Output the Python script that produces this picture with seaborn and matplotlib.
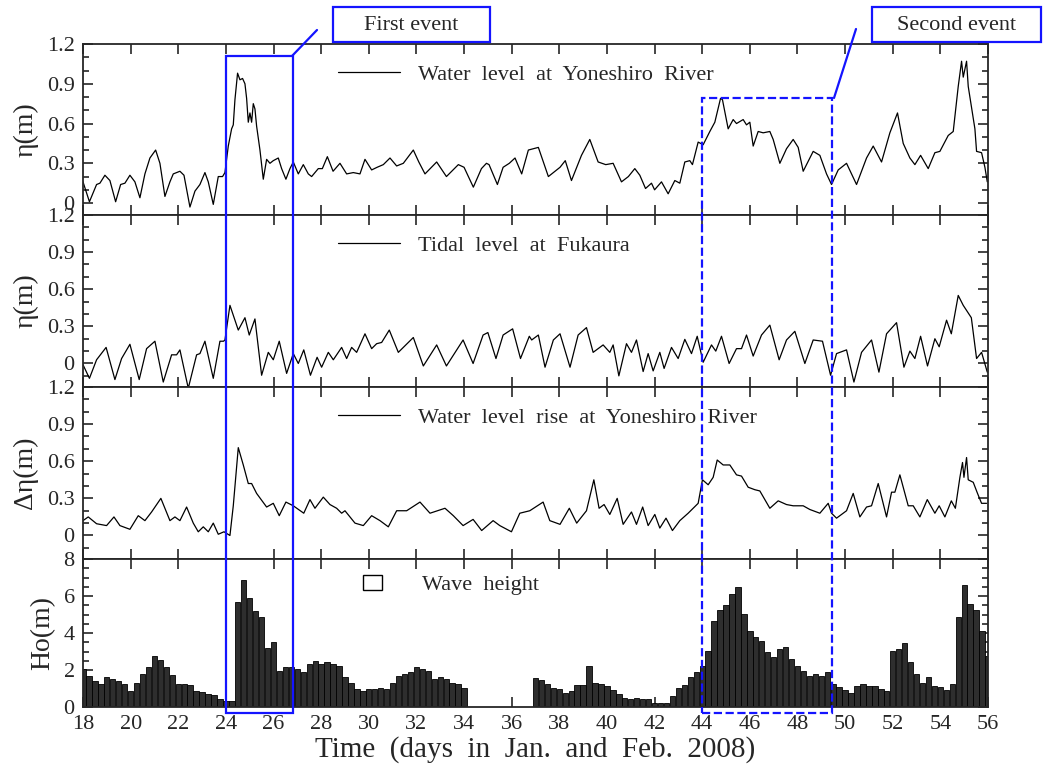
import numpy as np
import pandas as pd
import seaborn as sns
import matplotlib.pyplot as plt
from matplotlib.patches import Rectangle, Patch
from matplotlib.lines import Line2D
from matplotlib.ticker import MultipleLocator, FuncFormatter

# ---- data (days in Jan./Feb. 2008) ----
level_days = [18.0, 18.27, 18.57, 18.71, 18.92, 19.13, 19.37, 19.58, 19.76, 19.97, 20.18, 20.39, 20.6, 20.81,
              21.05, 21.23, 21.44, 21.65, 21.79, 22.07, 22.24, 22.49, 22.7, 22.91, 23.12, 23.26, 23.47, 23.68,
              23.86, 23.96, 24.1, 24.24, 24.31, 24.38, 24.49, 24.59, 24.7, 24.8, 24.87, 24.94, 25.01, 25.08,
              25.15, 25.22, 25.29, 25.43, 25.57, 25.71, 25.85, 25.99, 26.2, 26.34, 26.52, 26.69, 26.83, 27.04,
              27.25, 27.46, 27.6, 27.88, 28.05, 28.26, 28.5, 28.79, 29.07, 29.35, 29.63, 29.84, 30.12, 30.35,
              30.61, 30.89, 31.17, 31.45, 31.87, 32.1, 32.36, 32.85, 33.26, 33.76, 34.0, 34.39, 34.73, 34.94,
              35.05, 35.4, 35.64, 35.9, 36.14, 36.42, 36.7, 37.12, 37.54, 38.03, 38.25, 38.51, 38.93, 39.28,
              39.63, 39.95, 40.26, 40.61, 40.9, 41.17, 41.38, 41.62, 41.87, 42.0, 42.29, 42.57, 42.85, 43.06,
              43.27, 43.48, 43.59, 43.83, 44.04, 44.32, 44.53, 44.77, 44.85, 45.09, 45.3, 45.44, 45.72, 45.86,
              46.0, 46.14, 46.35, 46.56, 46.84, 46.98, 47.26, 47.54, 47.82, 48.03, 48.24, 48.66, 48.94, 49.22,
              49.43, 49.71, 50.06, 50.48, 50.9, 51.18, 51.53, 51.88, 52.2, 52.44, 52.72, 52.93, 53.17, 53.49,
              53.77, 53.98, 54.33, 54.54, 54.75, 54.89, 54.96, 55.1, 55.17, 55.45, 55.52, 55.73, 55.87, 55.97]
level_vals = [0.16, 0.01, 0.14, 0.15, 0.21, 0.17, 0.01, 0.14, 0.15, 0.21, 0.16, 0.04, 0.22, 0.34,
              0.40, 0.30, 0.05, 0.16, 0.22, 0.24, 0.21, -0.03, 0.09, 0.14, 0.23, 0.16, -0.01, 0.20,
              0.20, 0.23, 0.43, 0.56, 0.59, 0.78, 0.98, 0.93, 0.94, 0.90, 0.79, 0.61, 0.68, 0.61,
              0.75, 0.71, 0.58, 0.40, 0.18, 0.33, 0.30, 0.32, 0.34, 0.26, 0.18, 0.26, 0.31, 0.22,
              0.29, 0.22, 0.20, 0.26, 0.26, 0.35, 0.24, 0.30, 0.22, 0.23, 0.22, 0.33, 0.25, 0.27,
              0.29, 0.34, 0.28, 0.30, 0.40, 0.31, 0.22, 0.31, 0.20, 0.29, 0.27, 0.12, 0.26, 0.30,
              0.29, 0.14, 0.27, 0.30, 0.34, 0.22, 0.40, 0.42, 0.20, 0.27, 0.32, 0.17, 0.36, 0.48,
              0.31, 0.29, 0.30, 0.16, 0.20, 0.26, 0.21, 0.11, 0.15, 0.10, 0.16, 0.07, 0.17, 0.15,
              0.31, 0.32, 0.29, 0.46, 0.44, 0.54, 0.61, 0.79, 0.78, 0.56, 0.63, 0.60, 0.63, 0.59,
              0.61, 0.43, 0.54, 0.53, 0.54, 0.48, 0.30, 0.41, 0.48, 0.42, 0.24, 0.39, 0.36, 0.22,
              0.14, 0.25, 0.30, 0.14, 0.34, 0.43, 0.31, 0.53, 0.68, 0.45, 0.34, 0.29, 0.36, 0.26,
              0.38, 0.39, 0.51, 0.54, 0.88, 1.07, 0.95, 1.07, 0.88, 0.56, 0.39, 0.38, 0.27, 0.16]

tide_days = [18.0, 18.27, 18.57, 18.97, 19.34, 19.62, 19.97, 20.36, 20.67, 21.02, 21.37, 21.72, 21.93, 22.07,
             22.42, 22.77, 22.91, 23.12, 23.47, 23.75, 23.9, 23.96, 24.17, 24.52, 24.8, 24.98, 25.22, 25.5,
             25.78, 25.99, 26.24, 26.55, 26.83, 27.04, 27.27, 27.55, 27.83, 28.02, 28.3, 28.51, 28.86, 29.07,
             29.28, 29.49, 29.84, 30.12, 30.33, 30.54, 30.86, 31.24, 31.87, 32.29, 32.85, 33.26, 33.96, 34.38,
             34.8, 35.0, 35.34, 35.64, 36.04, 36.37, 36.74, 36.84, 37.12, 37.4, 37.75, 38.03, 38.45, 38.79,
             39.14, 39.42, 39.63, 39.84, 40.12, 40.26, 40.5, 40.82, 41.03, 41.24, 41.52, 41.73, 41.94, 42.22,
             42.4, 42.71, 42.99, 43.27, 43.55, 43.79, 44.04, 44.39, 44.57, 44.81, 45.13, 45.44, 45.65, 45.86,
             46.14, 46.49, 46.84, 47.23, 47.54, 47.89, 48.31, 48.66, 49.05, 49.39, 49.64, 50.06, 50.37, 50.69,
             51.11, 51.42, 51.74, 52.16, 52.47, 52.72, 52.93, 53.17, 53.46, 53.77, 53.95, 54.26, 54.46, 54.75,
             54.96, 55.3, 55.52, 55.73, 55.97]
tide_vals = [-0.01, -0.12, 0.03, 0.13, -0.13, 0.04, 0.155, -0.13, 0.12, 0.18, -0.15, 0.07, 0.07, 0.11,
             -0.20, 0.07, 0.08, 0.18, -0.12, 0.18, 0.18, 0.19, 0.47, 0.27, 0.37, 0.23, 0.36, -0.095,
             0.09, 0.03, 0.18, -0.08, 0.08, 0.0, 0.11, -0.095, 0.05, -0.03, 0.09, 0.03, 0.13, 0.04,
             0.13, 0.09, 0.24, 0.12, 0.16, 0.17, 0.27, 0.09, 0.21, -0.02, 0.15, -0.02, 0.19, 0.0,
             0.23, 0.25, 0.04, 0.23, 0.28, 0.04, 0.22, 0.19, 0.23, -0.03, 0.19, 0.24, -0.03, 0.23,
             0.29, 0.09, 0.12, 0.15, 0.09, 0.15, -0.10, 0.16, 0.09, 0.19, -0.065, 0.08, -0.06, 0.09,
             -0.04, 0.13, 0.04, 0.195, 0.08, 0.22, 0.01, 0.15, 0.10, 0.22, 0.0, 0.12, 0.12, 0.23,
             0.06, 0.23, 0.31, 0.03, 0.19, 0.26, 0.0, 0.19, 0.18, -0.095, 0.08, 0.11, -0.15, 0.09,
             0.19, -0.07, 0.24, 0.33, -0.03, 0.10, 0.04, 0.22, -0.02, 0.20, 0.135, 0.35, 0.24, 0.55,
             0.47, 0.37, 0.04, 0.09, -0.07]

rise_days = [18.0, 18.22, 18.57, 18.99, 19.3, 19.55, 19.97, 20.32, 20.6, 20.88, 21.27, 21.44, 21.65, 21.86,
             22.07, 22.35, 22.63, 22.84, 23.05, 23.26, 23.47, 23.68, 23.92, 24.17, 24.31, 24.52, 24.73, 24.94,
             25.08, 25.29, 25.71, 25.99, 26.24, 26.52, 26.83, 27.27, 27.53, 27.74, 28.09, 28.37, 28.65, 28.86,
             29.0, 29.42, 29.77, 30.12, 30.47, 30.82, 31.17, 31.59, 32.15, 32.57, 33.2, 33.55, 33.96, 34.38,
             34.74, 35.22, 35.5, 35.99, 36.34, 36.76, 37.32, 37.6, 38.03, 38.42, 38.73, 39.14, 39.45, 39.67,
             39.88, 40.12, 40.43, 40.68, 41.03, 41.24, 41.5, 41.73, 42.01, 42.22, 42.48, 42.75, 43.06, 43.41,
             43.62, 43.83, 44.01, 44.25, 44.46, 44.63, 44.88, 45.16, 45.44, 45.65, 45.93, 46.21, 46.42, 46.63,
             46.84, 47.19, 47.54, 47.82, 48.24, 48.52, 48.94, 49.29, 49.43, 49.64, 50.06, 50.34, 50.62, 50.9,
             51.11, 51.39, 51.74, 51.95, 52.09, 52.3, 52.65, 52.86, 53.14, 53.45, 53.77, 53.95, 54.19, 54.46,
             54.63, 54.82, 54.93, 54.99, 55.1, 55.17, 55.38, 55.56, 55.73, 55.94]
rise_vals = [0.12, 0.15, 0.095, 0.08, 0.15, 0.08, 0.05, 0.16, 0.12, 0.19, 0.30, 0.22, 0.12, 0.15,
             0.12, 0.23, 0.10, 0.03, 0.07, 0.03, 0.10, 0.01, 0.03, 0.0, 0.24, 0.71, 0.57, 0.42,
             0.42, 0.34, 0.23, 0.26, 0.16, 0.27, 0.24, 0.18, 0.29, 0.22, 0.31, 0.25, 0.22, 0.18,
             0.20, 0.10, 0.08, 0.16, 0.12, 0.07, 0.20, 0.20, 0.27, 0.18, 0.22, 0.16, 0.08, 0.13,
             0.04, 0.12, 0.08, 0.03, 0.18, 0.20, 0.27, 0.12, 0.09, 0.22, 0.10, 0.20, 0.45, 0.22,
             0.25, 0.17, 0.30, 0.09, 0.19, 0.09, 0.23, 0.08, 0.17, 0.06, 0.14, 0.04, 0.12, 0.18,
             0.22, 0.26, 0.45, 0.41, 0.47, 0.61, 0.57, 0.57, 0.49, 0.48, 0.39, 0.37, 0.36, 0.29,
             0.22, 0.28, 0.25, 0.24, 0.24, 0.21, 0.18, 0.26, 0.18, 0.14, 0.20, 0.34, 0.15, 0.23,
             0.24, 0.42, 0.15, 0.35, 0.35, 0.49, 0.24, 0.24, 0.15, 0.29, 0.18, 0.24, 0.15, 0.28,
             0.22, 0.47, 0.59, 0.47, 0.63, 0.45, 0.43, 0.34, 0.26, 0.26]

# wave height, one reading every 6 hours from day 18
wave_start = 18.0
wave_step = 0.25
wave_height = [2.05, 1.68, 1.41, 1.25, 1.6, 1.5, 1.41, 1.23, 0.87, 1.32, 1.78, 2.14,
               2.77, 2.54, 2.14, 1.74, 1.23, 1.23, 1.2, 0.87, 0.83, 0.72, 0.65, 0.42,
               0.33, 0.3, 5.7, 6.88, 5.9, 5.2, 4.85, 3.2, 3.5, 1.96, 2.14, 2.14,
               2.05, 1.87, 2.32, 2.5, 2.32, 2.41, 2.32, 2.23, 1.6, 1.3, 1.0, 0.87,
               0.96, 0.96, 1.05, 1.0, 1.32, 1.68, 1.78, 1.87, 2.14, 2.05, 1.96, 1.5,
               1.6, 1.5, 1.32, 1.23, 1.05, 0, 0, 0, 0, 0, 0, 0, 0, 0, 0, 0,
               1.56, 1.45, 1.23, 1.05, 0.96, 0.78, 0.87, 1.2, 1.2, 2.2, 1.32, 1.27,
               1.14, 0.9, 0.69, 0.51, 0.45, 0.51, 0.42, 0.42, 0.24, 0.24, 0.24, 0.6,
               1.05, 1.2, 1.6, 1.87, 2.23, 3.04, 4.67, 5.25, 5.49, 6.12, 6.49, 5.04,
               4.13, 3.77, 3.59, 2.95, 2.68, 3.13, 3.26, 2.59, 2.23, 1.96, 1.68, 1.81,
               1.68, 1.87, 1.27, 1.09, 0.9, 0.78, 1.14, 1.23, 1.14, 1.14, 0.96, 0.87,
               3.04, 3.13, 3.45, 2.41, 1.78, 1.32, 1.6, 1.14, 1.09, 0.9, 1.23, 4.85,
               6.58, 5.58, 5.22, 4.13, 2.77]

x_ticks = list(range(18, 57, 2))
first_event = (24.0, 26.8)
second_event = (44.0, 49.45)

sns.set_style("ticks")
plt.rcParams["font.family"] = ["Liberation Serif", "DejaVu Serif"]
plt.rcParams["axes.linewidth"] = 1.3

W, H = 1044, 771
fig = plt.figure(figsize=(W / 100, H / 100), dpi=100)
axes = fig.subplots(4, 1, sharex=True,
                    gridspec_kw=dict(height_ratios=[171, 172, 172, 148], hspace=0))
fig.subplots_adjust(left=83 / W, right=988 / W, top=1 - 44 / H, bottom=1 - 707 / H)
ax1, ax2, ax3, ax4 = axes

series = [
    (ax1, level_days, level_vals, "Water  level  at  Yoneshiro  River", r"η(m)", (-0.09, 1.2)),
    (ax2, tide_days, tide_vals, "Tidal  level  at  Fukaura", r"η(m)", (-0.19, 1.2)),
    (ax3, rise_days, rise_vals, "Water  level  rise  at  Yoneshiro  River", r"Δη(m)", (-0.19, 1.2)),
]
for ax, xs, ys, lab, ylab, lim in series:
    sns.lineplot(x=xs, y=ys, ax=ax, color="black", linewidth=0.9, label=lab)
    ax.set_ylim(*lim)
    ax.set_yticks([0, 0.3, 0.6, 0.9, 1.2])
    ax.yaxis.set_minor_locator(MultipleLocator(0.1))
    ax.set_ylabel(ylab, fontsize=20, labelpad=6)
    ax.legend(loc="center left", bbox_to_anchor=(0.282, 0.82), frameon=False,
              borderpad=0, borderaxespad=0, handlelength=2.8, handletextpad=0.77,
              fontsize=16)

# wave height bars
wave_days = wave_start + wave_step * np.arange(len(wave_height))
wave_df = pd.DataFrame({"day": wave_days, "height": wave_height})
sns.histplot(data=wave_df, x="day", weights="height", binwidth=wave_step,
             binrange=(wave_days[0] - wave_step / 2, wave_days[-1] + wave_step / 2),
             ax=ax4, color="#2e2e2e", edgecolor="black", linewidth=0.6, alpha=1, shrink=0.9)
ax4.set_ylim(0, 8)
ax4.set_yticks([0, 2, 4, 6, 8])
ax4.yaxis.set_minor_locator(MultipleLocator(0.5))
ax4.set_ylabel("Ho(m)", fontsize=20, labelpad=6)
ax4.legend(handles=[Patch(facecolor="white", edgecolor="black", linewidth=1)],
           labels=["Wave  height"], loc="center left", bbox_to_anchor=(0.309, 0.824),
           frameon=False, borderpad=0, borderaxespad=0, handlelength=0.86,
           handleheight=0.63, handletextpad=1.8, fontsize=16)

fmt = FuncFormatter(lambda v, p: "0" if abs(v) < 1e-9 else f"{v:g}")
for ax in axes:
    ax.set_xlim(18, 56)
    ax.set_xticks(x_ticks)
    ax.yaxis.set_major_formatter(fmt)
    ax.tick_params(which="both", direction="in", top=True, right=True, labelsize=16,
                   pad=6, width=1.2)
    ax.tick_params(which="major", length=7)
    ax.tick_params(which="minor", length=4)
    ax.set_xlabel("")
    for s in ax.spines.values():
        s.set_visible(True)
ax4.set_xlabel("Time  (days  in  Jan.  and  Feb.  2008)", fontsize=21, labelpad=1)

# event boxes spanning all panels
to_fig = fig.transFigure.inverted()


def fig_xy(ax, x, y):
    return to_fig.transform(ax.transData.transform((x, y)))


blue = "#1414ff"
for (x0, x1), top, style in [(first_event, 1.11, "-"), (second_event, 0.79, "--")]:
    px0, py0 = fig_xy(ax4, x0, -0.33)
    px1, py1 = fig_xy(ax1, x1, top)
    fig.patches.append(Rectangle((px0, py0), px1 - px0, py1 - py0, transform=fig.transFigure,
                                 fill=False, edgecolor=blue, linewidth=1.6, linestyle=style,
                                 zorder=10))

# callout labels
for (bx0, bx1), text, (l0, l1) in [((333, 490), "First event", ((292, 56), (317, 30))),
                                   ((872, 1041), "Second event", ((834, 98), (856, 29)))]:
    fig.patches.append(Rectangle((bx0 / W, 1 - 42 / H), (bx1 - bx0) / W, 35 / H,
                                 transform=fig.transFigure, fill=True, facecolor="white",
                                 edgecolor=blue, linewidth=1.6))
    fig.text((bx0 + bx1) / 2 / W, 1 - 25 / H, text, ha="center", va="center", fontsize=16)
    fig.add_artist(Line2D([l0[0] / W, l1[0] / W], [1 - l0[1] / H, 1 - l1[1] / H],
                          transform=fig.transFigure, color=blue, linewidth=1.6))

fig.savefig("out.png", dpi=100)
